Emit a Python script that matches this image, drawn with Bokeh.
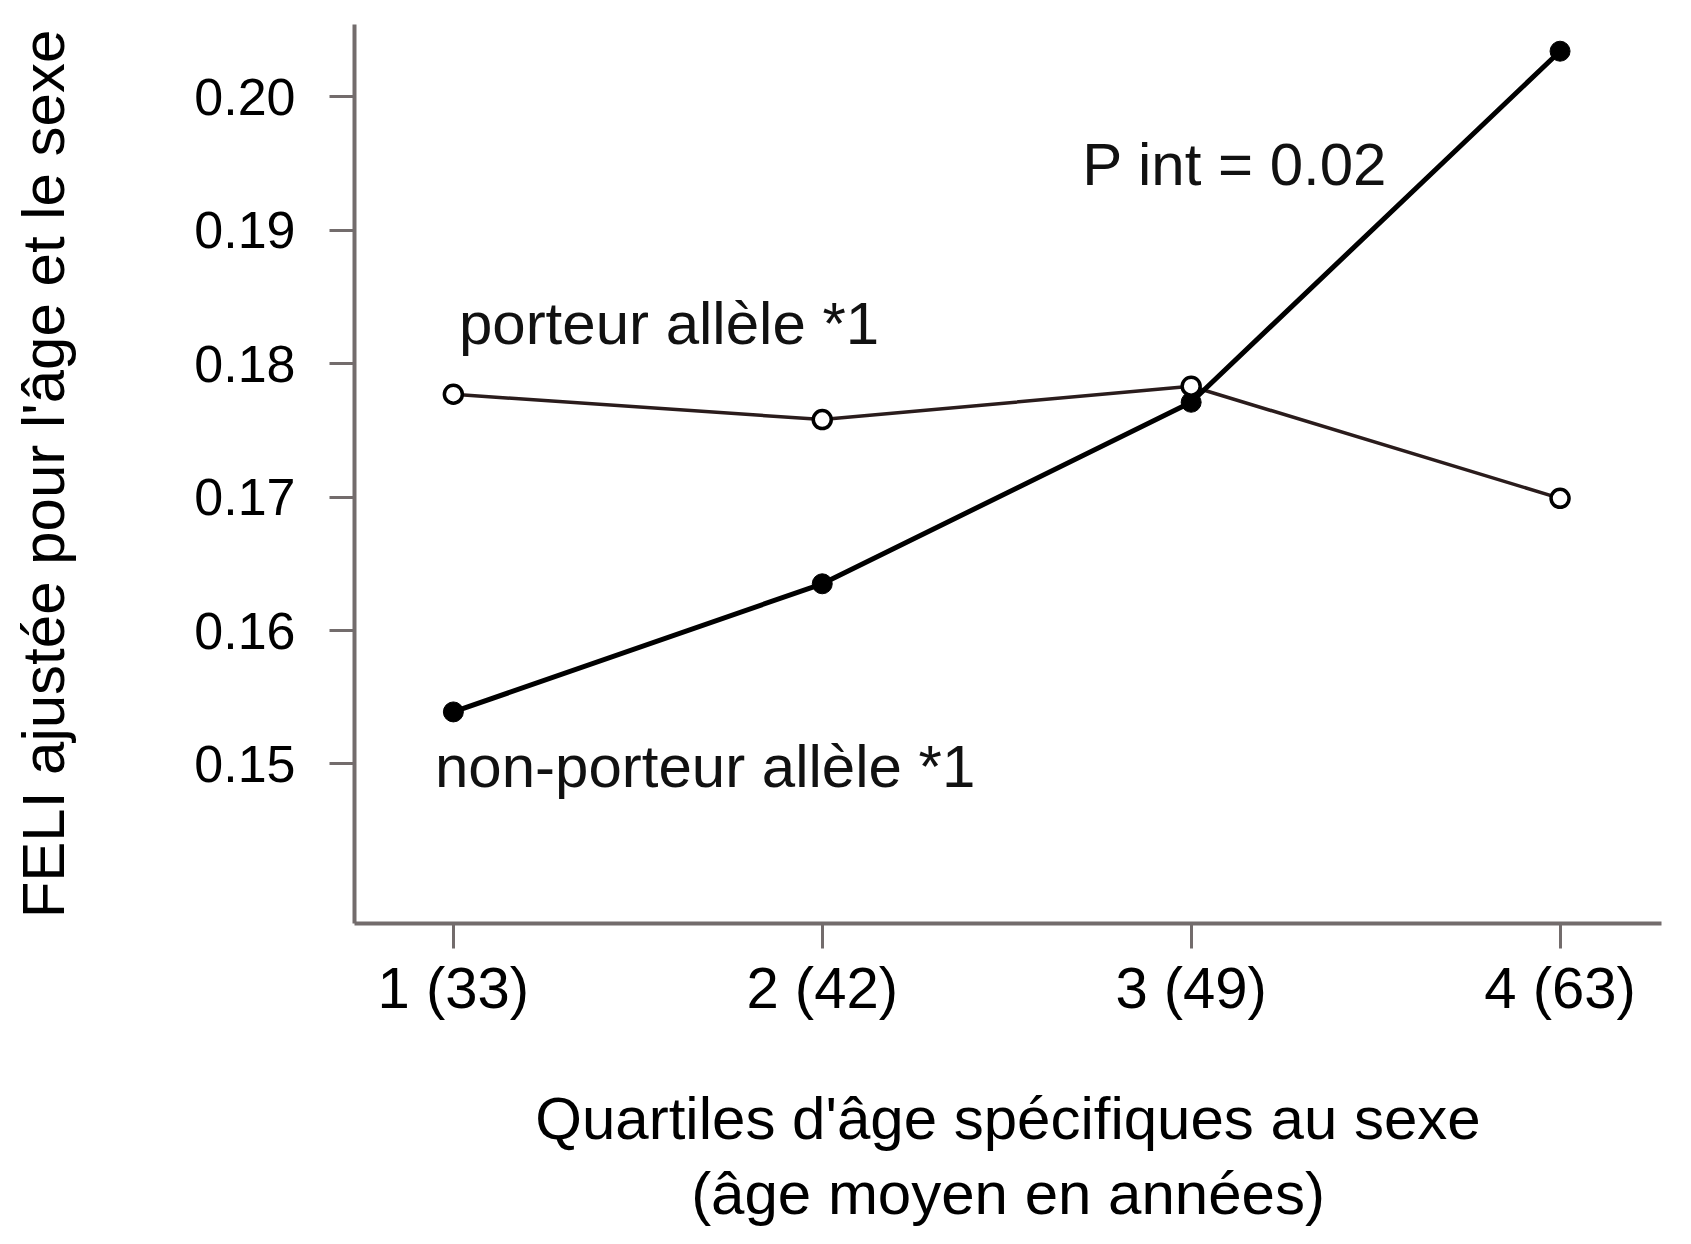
from bokeh.plotting import figure
from bokeh.models import FixedTicker, Label, PrintfTickFormatter, Range1d
from bokeh.embed import file_html
from bokeh.resources import INLINE

# ---- data ----
quartiles = [1, 2, 3, 4]
quartile_labels = ["1 (33)", "2 (42)", "3 (49)", "4 (63)"]
porteur = [0.1777, 0.1758, 0.1783, 0.1699]
non_porteur = [0.1539, 0.1635, 0.1771, 0.2034]
y_ticks = [0.15, 0.16, 0.17, 0.18, 0.19, 0.20]

FONT = "Liberation Sans"
AX = "#736c6c"

p = figure(width=1683, height=1236, output_backend="svg", toolbar_location=None,
           x_range=Range1d(0.732, 4.275), y_range=Range1d(0.13805, 0.2054),
           min_border_left=354, min_border_right=22, min_border_top=24, min_border_bottom=313)
p.outline_line_color = None
p.xgrid.visible = False
p.ygrid.visible = False
p.background_fill_color = "white"

# lines
p.line(quartiles, porteur, line_color="#2a1c1c", line_width=3.5)
p.line(quartiles, non_porteur, line_color="black", line_width=5)
p.scatter(quartiles, non_porteur, size=20, fill_color="black", line_color="black")
p.scatter(quartiles, porteur, size=18, fill_color="white", line_color="black", line_width=3.5)

# axes
for ax in (p.xaxis[0], p.yaxis[0]):
    ax.axis_line_color = AX
    ax.axis_line_width = 4
    ax.major_tick_line_color = AX
    ax.major_tick_line_width = 3
    ax.major_tick_out = 25
    ax.major_tick_in = 0
    ax.minor_tick_line_color = None
    ax.major_label_text_color = "black"
    ax.axis_label_text_color = "black"
    ax.axis_label_text_font_style = "normal"
    ax.axis_label_text_font = FONT

p.yaxis.ticker = FixedTicker(ticks=y_ticks)
p.yaxis.formatter = PrintfTickFormatter(format="%.2f")
p.yaxis.major_label_text_font = FONT
p.yaxis.major_label_text_font_size = "52px"
p.yaxis.major_label_standoff = 34
p.yaxis.axis_label = "FELI ajustée pour l'âge et le sexe"
p.yaxis.axis_label_text_font_size = "60px"
p.yaxis.axis_label_standoff = 114

p.xaxis.ticker = FixedTicker(ticks=quartiles)
p.xaxis.major_label_overrides = {q: lab for q, lab in zip(quartiles, quartile_labels)}
p.xaxis.major_label_text_font = FONT
p.xaxis.major_label_text_font_size = "58px"
p.xaxis.major_label_standoff = 6
p.xaxis.axis_label = "Quartiles d'âge spécifiques au sexe\n(âge moyen en années)"
p.xaxis.axis_label_text_font_size = "60px"
p.xaxis.axis_label_standoff = 62
p.xaxis.axis_label_text_line_height = 1.12

# annotations
p.add_layout(Label(x=1.015, y=0.1830, text="porteur allèle *1", text_font=FONT,
                   text_font_size="60px", text_baseline="middle", text_color="#111111"))
p.add_layout(Label(x=0.95, y=0.1498, text="non-porteur allèle *1", text_font=FONT,
                   text_font_size="60px", text_baseline="middle", text_color="#111111"))
p.add_layout(Label(x=2.705, y=0.1949, text="P int = 0.02", text_font=FONT,
                   text_font_size="60px", text_baseline="middle", text_color="#111111"))

open("out.html", "w").write(file_html(p, INLINE))
